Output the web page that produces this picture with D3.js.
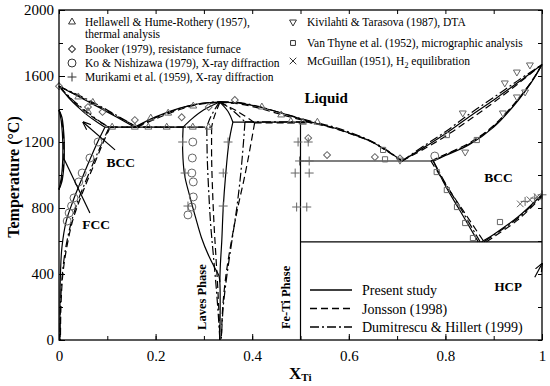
<!DOCTYPE html>
<html>
<head>
<meta charset="utf-8">
<script src="https://cdn.jsdelivr.net/npm/d3@7"></script>
<style>
  body { margin: 0; background: #fff; }
  svg { font-family: "Liberation Serif", "Times New Roman", serif; }
</style>
</head>
<body>
<svg id="chart" width="550" height="386"></svg>
<script>
// ---- data (X_Ti, T in degC) ----
var xTicks = [0, 0.2, 0.4, 0.6, 0.8, 1];
var yTicks = [0, 400, 800, 1200, 1600, 2000];

// Present study (solid)
var liqFeP = [[0,1538],[0.03,1492],[0.06,1445],[0.09,1398],[0.12,1350],[0.157,1290]];
var solFeP = [[0,1538],[0.02,1468],[0.04,1410],[0.06,1360],[0.08,1318],[0.095,1290]];
var solvFeP = [[0.095,1290],[0.08,1200],[0.062,1080],[0.045,960],[0.03,850],[0.015,720],[0.006,560],[0.003,400],[0.002,200],[0.002,0]];
var gamOutP = [[0,1394],[0.006,1350],[0.01,1250],[0.011,1150],[0.01,1050],[0.006,960],[0,912]];
var gamInP = [[0,1394],[0.004,1340],[0.007,1250],[0.008,1150],[0.007,1050],[0.004,970],[0,912]];
var eutLP = [[0.095,1290],[0.257,1290]];
var liqLavLP = [[0.157,1290],[0.2,1352],[0.25,1405],[0.29,1432],[0.333,1442]];
var solLavLP = [[0.333,1442],[0.3,1395],[0.275,1340],[0.257,1290]];
var lavLP = [[0.257,1290],[0.256,1150],[0.26,1000],[0.27,880],[0.283,740],[0.295,620],[0.31,510],[0.322,440],[0.331,390],[0.333,350],[0.333,0]];
var solLavRP = [[0.333,1442],[0.35,1385],[0.36,1320]];
var lavRP = [[0.36,1320],[0.352,1200],[0.345,1000],[0.34,800],[0.337,600],[0.334,450],[0.333,350]];
var periP = [[0.36,1320],[0.52,1320]];
var liqRP = [[0.333,1442],[0.37,1437],[0.4,1422],[0.45,1385],[0.5,1340],[0.53,1315],[0.57,1285],[0.61,1245],[0.645,1205],[0.68,1145],[0.71,1085]];
var feTiP = [[0.5,1320],[0.5,0]];
var eutRP = [[0.5,1085],[0.775,1085]];
var liqTiP = [[0.71,1085],[0.76,1175],[0.8,1250],[0.85,1355],[0.9,1455],[0.95,1560],[1,1670]];
var solTiP = [[0.775,1085],[0.8,1118],[0.85,1185],[0.9,1290],[0.95,1450],[0.98,1570],[1,1670]];
var solvTiP = [[0.775,1085],[0.8,935],[0.83,785],[0.868,595]];
var eutdP = [[0.5,595],[1,595]];
var betaTiP = [[0.875,595],[0.9,640],[0.95,745],[1,882]];

// Jonsson (1998) (dashed)
var liqFeJ = [[0,1538],[0.03,1494],[0.06,1450],[0.09,1404],[0.12,1356],[0.162,1290]];
var solFeJ = [[0,1538],[0.02,1474],[0.04,1420],[0.06,1372],[0.08,1330],[0.1,1297],[0.106,1290]];
var solvFeJ = [[0.106,1290],[0.092,1200],[0.075,1080],[0.058,960],[0.043,850],[0.028,720],[0.016,560],[0.008,400],[0.004,200],[0.003,0]];
var gamJ = [[0,1394],[0.005,1345],[0.009,1250],[0.01,1150],[0.009,1050],[0.005,965],[0,912]];
var eutLJ = [[0.106,1290],[0.316,1290]];
var liqLavLJ = [[0.162,1290],[0.2,1340],[0.25,1397],[0.29,1428],[0.333,1440]];
var solLavLJ = [[0.333,1440],[0.326,1390],[0.32,1340],[0.316,1290]];
var lavLJ = [[0.316,1290],[0.316,1100],[0.318,900],[0.321,700],[0.325,500],[0.329,300],[0.332,100],[0.333,0]];
var solLavRJ = [[0.333,1440],[0.37,1385],[0.405,1316]];
var lavRJ = [[0.405,1316],[0.398,1200],[0.385,1000],[0.37,800],[0.357,600],[0.346,400],[0.339,200],[0.336,0]];
var periJ = [[0.405,1316],[0.525,1316]];
var liqRJ = [[0.333,1440],[0.37,1432],[0.41,1408],[0.45,1375],[0.5,1335],[0.53,1312],[0.57,1282],[0.61,1243],[0.645,1203],[0.68,1143],[0.71,1085]];
var liqTiJ = [[0.71,1085],[0.76,1165],[0.8,1235],[0.85,1335],[0.9,1440],[0.95,1552],[1,1670]];
var solTiJ = [[0.77,1085],[0.8,1125],[0.85,1195],[0.9,1300],[0.95,1458],[0.98,1575],[1,1670]];
var solvTiJ = [[0.77,1085],[0.8,945],[0.84,770],[0.88,595]];
var betaTiJ = [[0.885,595],[0.9,625],[0.95,728],[1,870]];

// Dumitrescu & Hillert (1999) (dash-dot)
var liqFeD = [[0,1538],[0.03,1498],[0.06,1456],[0.09,1410],[0.12,1360],[0.16,1292]];
var solFeD = [[0,1538],[0.02,1478],[0.04,1425],[0.06,1378],[0.08,1334],[0.1,1296],[0.104,1290]];
var solvFeD = [[0.104,1290],[0.09,1200],[0.072,1080],[0.055,960],[0.04,850],[0.026,720],[0.014,560],[0.007,400],[0.003,200],[0.002,0]];
var eutLD = [[0.104,1290],[0.306,1290]];
var liqLavLD = [[0.16,1292],[0.2,1348],[0.25,1403],[0.29,1432],[0.333,1445]];
var solLavLD = [[0.333,1445],[0.322,1395],[0.312,1340],[0.306,1290]];
var lavLD = [[0.306,1290],[0.307,1100],[0.31,900],[0.314,700],[0.32,500],[0.326,300],[0.331,100],[0.333,0]];
var solLavRD = [[0.333,1445],[0.36,1390],[0.385,1322]];
var lavRD = [[0.385,1322],[0.382,1200],[0.376,1000],[0.368,800],[0.358,600],[0.348,400],[0.34,200],[0.336,0]];
var periD = [[0.385,1322],[0.525,1322]];
var liqRD = [[0.333,1445],[0.37,1440],[0.41,1418],[0.45,1385],[0.5,1343],[0.53,1320],[0.57,1290],[0.61,1250],[0.645,1208],[0.68,1148],[0.71,1085]];
var liqTiD = [[0.71,1085],[0.76,1185],[0.8,1262],[0.85,1370],[0.9,1470],[0.95,1572],[1,1670]];
var solTiD = [[0.775,1085],[0.8,1122],[0.85,1190],[0.9,1296],[0.95,1455],[0.98,1572],[1,1670]];
var solvTiD = [[0.775,1085],[0.8,950],[0.835,780],[0.872,595]];
var betaTiD = [[0.88,595],[0.9,635],[0.95,738],[1,876]];

// experimental points
var hellawell = [[0.04,1473],[0.07,1440],[0.06,1385],[0.11,1290],[0.157,1290],[0.185,1290],[0.223,1290],[0.277,1290],[0.31,1290],[0.19,1345],[0.226,1375],[0.278,1418],[0.42,1412],[0.46,1364],[0.48,1325],[0.505,1320],[0.535,1320]];
var booker = [[0,1538],[0.06,1412],[0.09,1382],[0.157,1333],[0.254,1350],[0.31,1412],[0.364,1455],[0.516,1224],[0.555,1121],[0.654,1109],[0.706,1100]];
var koNishizawa = [[0.081,1200],[0.064,1103],[0.048,1012],[0.041,958],[0.031,861],[0.026,812],[0.021,770],[0.017,721],
  [0.277,1200],[0.276,1103],[0.275,1012],[0.278,958],[0.278,867],[0.275,806],[0.267,758],[0.778,1115]];
var murikami = [[0.256,1200],[0.35,1200],[0.261,1012],[0.34,1012],[0.267,812],[0.34,812],[0.495,1200],[0.516,1200],
  [0.498,1085],[0.518,1085],[0.489,1012],[0.518,1012],[0.492,806],[0.513,806],[0.965,840],[0.985,860],[1.0,880]];
var kivilahti = [[0.975,1667],[0.948,1624],[0.923,1558],[0.836,1376],[0.965,1503],[0.948,1473],[0.919,1376],[0.841,1139],[0.706,1090]];
var vanThyne = [[0.675,1095],[0.671,1152],[0.803,1242],[0.865,1212],[0.782,1018],[0.803,909],[0.824,806],[0.841,709],[0.857,618],[0.913,715]];
var mcGuillan = [[0.955,825],[0.975,850],[0.99,868]];

var presentLines = [liqFeP, solFeP, solvFeP, gamOutP, gamInP, eutLP, liqLavLP, solLavLP, lavLP, solLavRP, lavRP, periP, liqRP, feTiP, eutRP, liqTiP, solTiP, solvTiP, eutdP, betaTiP];
var jonssonLines = [liqFeJ, solFeJ, solvFeJ, gamJ, eutLJ, liqLavLJ, solLavLJ, lavLJ, solLavRJ, lavRJ, periJ, liqRJ, liqTiJ, solTiJ, solvTiJ, betaTiJ];
var dumitrescuLines = [liqFeD, solFeD, solvFeD, eutLD, liqLavLD, solLavLD, lavLD, solLavRD, lavRD, periD, liqRD, liqTiD, solTiD, solvTiD, betaTiD];

// ---- drawing ----
var svg = d3.select("#chart");
var margin = {top: 10, right: 8, bottom: 46, left: 59};
var width = 550 - margin.left - margin.right,
    height = 386 - margin.top - margin.bottom;

var x = d3.scaleLinear().domain([0, 1]).range([margin.left, margin.left + width]);
var y = d3.scaleLinear().domain([0, 2000]).range([margin.top + height, margin.top]);

var line = d3.line()
    .x(function(d) { return x(d[0]); })
    .y(function(d) { return y(d[1]); })
    .curve(d3.curveCatmullRom.alpha(0.5));

function drawLines(set, dash, cls) {
    svg.selectAll("." + cls)
        .data(set)
        .enter()
        .append("path")
        .attr("class", cls)
        .attr("fill", "none")
        .attr("stroke", "#000")
        .attr("stroke-width", 1.2)
        .attr("stroke-dasharray", dash)
        .attr("d", line);
}

drawLines(dumitrescuLines, "9,3,2,3", "dumi");
drawLines(jonssonLines, "7,4", "jons");
drawLines(presentLines, null, "pres");

// markers
var markerColor = "#666";
var symbolTypes = [
    {data: hellawell, type: d3.symbolTriangle2, size: 34, rot: 0},
    {data: booker, type: d3.symbolSquare2, size: 30, rot: 45},
    {data: koNishizawa, type: d3.symbolCircle, size: 50, rot: 0},
    {data: murikami, type: d3.symbolPlus, size: 28, rot: 0},
    {data: kivilahti, type: d3.symbolTriangle2, size: 34, rot: 180},
    {data: vanThyne, type: d3.symbolSquare2, size: 34, rot: 0},
    {data: mcGuillan, type: d3.symbolTimes, size: 30, rot: 0}
];

symbolTypes.forEach(function(s) {
    svg.append("g").selectAll("path")
        .data(s.data)
        .enter()
        .append("path")
        .attr("d", d3.symbol().type(s.type).size(s.size))
        .attr("transform", function(d) { return "translate(" + x(d[0]) + "," + y(d[1]) + ") rotate(" + s.rot + ")"; })
        .attr("fill", "none")
        .attr("stroke", markerColor)
        .attr("stroke-width", 1);
});

// axes
function tickAxis(axisFn, scale, vals, size, fmt) {
    return axisFn(scale).tickValues(vals).tickSizeInner(-size).tickSizeOuter(0).tickFormat(fmt);
}
var xMinor = d3.range(0, 1.0001, 0.1);
var yMinor = d3.range(0, 2001, 200);

svg.append("g").attr("transform", "translate(0," + (margin.top + height) + ")")
    .call(tickAxis(d3.axisBottom, x, xMinor, 4, ""));
svg.append("g").attr("transform", "translate(0," + margin.top + ")")
    .call(tickAxis(d3.axisTop, x, xMinor, 4, ""));
svg.append("g").attr("transform", "translate(" + margin.left + ",0)")
    .call(tickAxis(d3.axisLeft, y, yMinor, 4, ""));
svg.append("g").attr("transform", "translate(" + (margin.left + width) + ",0)")
    .call(tickAxis(d3.axisRight, y, yMinor, 4, ""));

var xAxis = svg.append("g").attr("transform", "translate(0," + (margin.top + height) + ")")
    .call(tickAxis(d3.axisBottom, x, xTicks, 6, d3.format("")).tickPadding(10));
var yAxis = svg.append("g").attr("transform", "translate(" + margin.left + ",0)")
    .call(tickAxis(d3.axisLeft, y, yTicks, 6, d3.format("")).tickPadding(5));
[xAxis, yAxis].forEach(function(a) {
    a.selectAll("text").attr("font-family", "Liberation Serif, serif").attr("font-size", 15).attr("fill", "#000");
    a.selectAll("line").attr("stroke", "#000");
});
svg.selectAll(".tick line").attr("stroke", "#000");
svg.selectAll(".domain").remove();

svg.append("rect")
    .attr("x", margin.left).attr("y", margin.top)
    .attr("width", width).attr("height", height)
    .attr("fill", "none").attr("stroke", "#000").attr("stroke-width", 1.3);

// axis titles
var xt = svg.append("text")
    .attr("x", 289).attr("y", 379)
    .attr("font-size", 17).attr("font-weight", "bold");
xt.append("tspan").text("X");
xt.append("tspan").attr("font-size", 11).attr("dy", 2).text("Ti");

svg.append("text")
    .attr("transform", "translate(19,177) rotate(-90)")
    .attr("text-anchor", "middle")
    .attr("font-size", 16).attr("font-weight", "bold")
    .text("Temperature (°C)");

// phase labels
function label(txt, xv, yv, size, rot) {
    svg.append("text")
        .attr("transform", "translate(" + x(xv) + "," + y(yv) + ")" + (rot ? " rotate(" + rot + ")" : ""))
        .attr("text-anchor", "middle")
        .attr("font-size", size).attr("font-weight", "bold")
        .text(txt);
}
label("Liquid", 0.553, 1435, 15);
label("BCC", 0.128, 1050, 13.5);
label("FCC", 0.077, 675, 13.5);
label("BCC", 0.91, 960, 13.5);
label("HCP", 0.93, 300, 13);
label("Laves Phase", 0.304, 260, 12.5, -90);
label("Fe-Ti Phase", 0.479, 258, 12.5, -90);

// arrows / pointer lines
svg.append("defs").append("marker")
    .attr("id", "ah").attr("viewBox", "0 0 10 10")
    .attr("refX", 9).attr("refY", 5)
    .attr("markerWidth", 7).attr("markerHeight", 7)
    .attr("orient", "auto")
    .append("path").attr("d", "M0,1 L10,5 L0,9").attr("fill", "none").attr("stroke", "#000").attr("stroke-width", 1.4);

var pointers = [
    {from: [0.116, 1152], to: [0.05, 1320], arrow: true},
    {from: [0.985, 380], to: [1.0, 462], arrow: true},
    {from: [0.064, 770], to: [0.01, 1100], arrow: false}
];
pointers.forEach(function(p) {
    svg.append("line")
        .attr("x1", x(p.from[0])).attr("y1", y(p.from[1]))
        .attr("x2", x(p.to[0])).attr("y2", y(p.to[1]))
        .attr("stroke", "#000").attr("stroke-width", 1.2)
        .attr("marker-end", p.arrow ? "url(#ah)" : null);
});

// experimental legends
var legendLeft = [
    {type: d3.symbolTriangle2, size: 34, rot: 0, lines: ["Hellawell & Hume-Rothery (1957),", "thermal analysis"]},
    {type: d3.symbolSquare2, size: 30, rot: 45, lines: ["Booker (1979), resistance furnace"]},
    {type: d3.symbolCircle, size: 50, rot: 0, lines: ["Ko & Nishizawa (1979), X-ray diffraction"]},
    {type: d3.symbolPlus, size: 28, rot: 0, lines: ["Murikami et al. (1959), X-ray diffraction"]}
];
var leftY = [22, 49, 63, 77];
legendLeft.forEach(function(l, i) {
    svg.append("path")
        .attr("d", d3.symbol().type(l.type).size(l.size))
        .attr("transform", "translate(72," + leftY[i] + ") rotate(" + l.rot + ")")
        .attr("fill", "none").attr("stroke", "#333").attr("stroke-width", 1);
    l.lines.forEach(function(t, j) {
        svg.append("text").attr("x", 85).attr("y", leftY[i] + 4 + j * 12)
            .attr("font-size", 11.5).text(t);
    });
});

var legendRight = [
    {type: d3.symbolTriangle2, size: 34, rot: 180, text: "Kivilahti & Tarasova (1987), DTA"},
    {type: d3.symbolSquare2, size: 30, rot: 0, text: "Van Thyne et al. (1952), micrographic analysis"},
    {type: d3.symbolTimes, size: 30, rot: 0, text: "McGuillan (1951), H"}
];
var rightY = [22, 43, 61];
legendRight.forEach(function(l, i) {
    svg.append("path")
        .attr("d", d3.symbol().type(l.type).size(l.size))
        .attr("transform", "translate(293," + rightY[i] + ") rotate(" + l.rot + ")")
        .attr("fill", "none").attr("stroke", "#333").attr("stroke-width", 1);
    var t = svg.append("text").attr("x", 307).attr("y", rightY[i] + 4)
        .attr("font-size", 11.5).text(l.text);
    if (i == 2) {
        t.append("tspan").attr("font-size", 8).attr("dy", 3).text("2");
        t.append("tspan").attr("dy", -3).text(" equilibration");
    }
});

// model legend
var modelLegend = [
    {name: "Present study", dash: null},
    {name: "Jonsson (1998)", dash: "7,4"},
    {name: "Dumitrescu & Hillert (1999)", dash: "9,3,2,3"}
];
modelLegend.forEach(function(m, i) {
    var yy = 290 + i * 18.5;
    svg.append("line").attr("x1", 310).attr("x2", 352).attr("y1", yy).attr("y2", yy)
        .attr("stroke", "#000").attr("stroke-width", 1.3).attr("stroke-dasharray", m.dash);
    svg.append("text").attr("x", 362).attr("y", yy + 5).attr("font-size", 14).text(m.name);
});
</script>
</body>
</html>
